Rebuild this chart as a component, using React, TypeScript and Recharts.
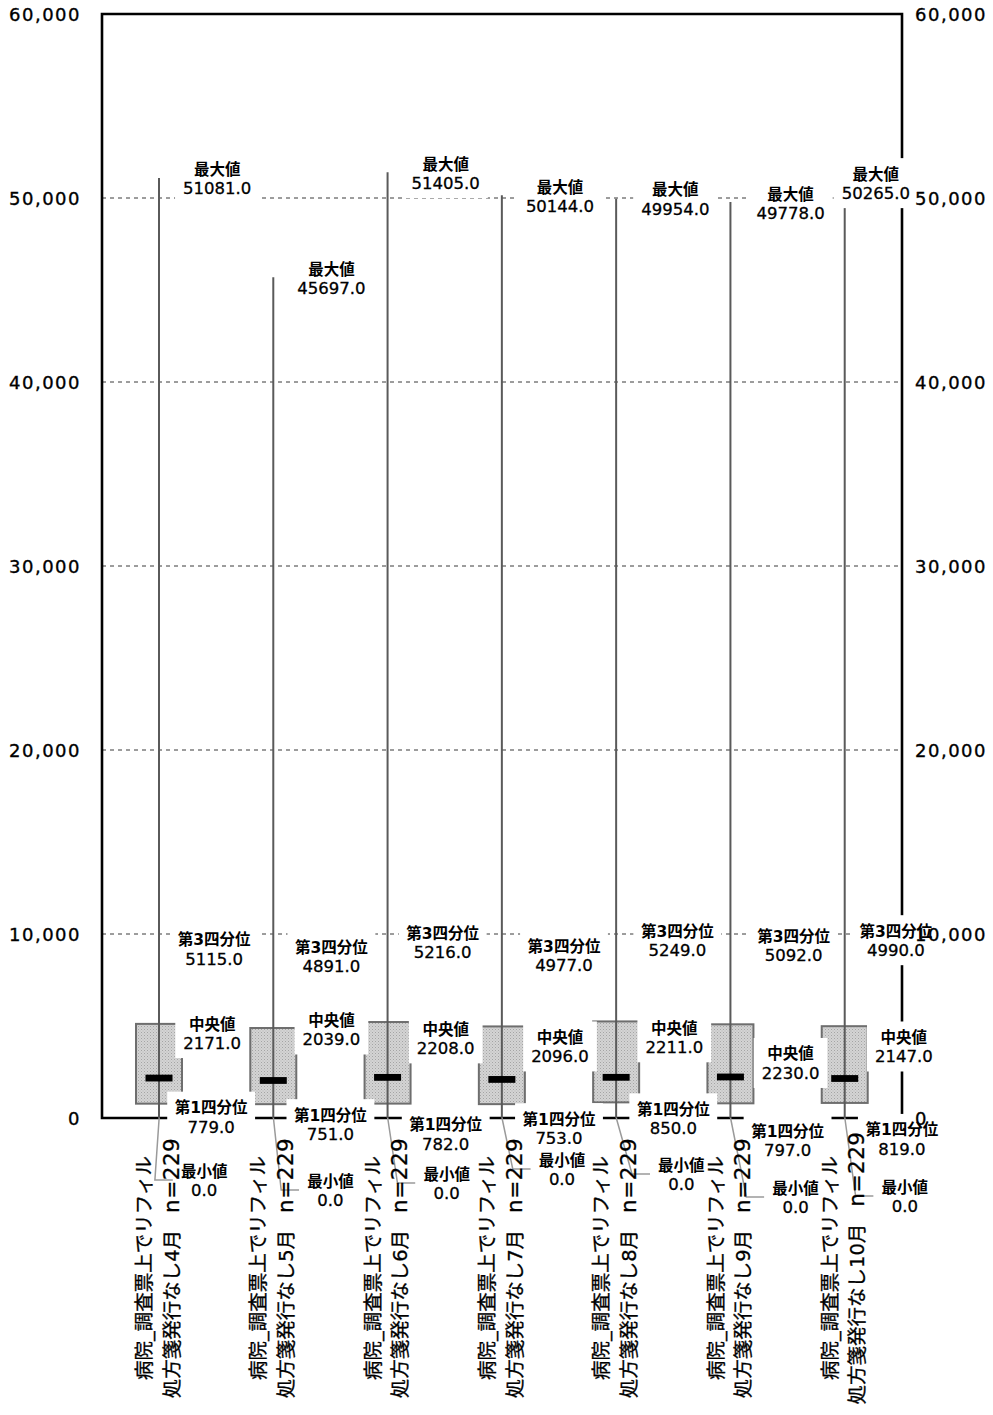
import React from "react";
import {
  ComposedChart,
  Bar,
  Line,
  XAxis,
  YAxis,
  CartesianGrid,
  ReferenceArea,
} from "recharts";

const months = ["4月", "5月", "6月", "7月", "8月", "9月", "10月"];
const groupName = "病院_調査票上でリフィル";
const groupSub = "処方箋発行なし";
const counts = [229, 229, 229, 229, 229, 229, 229];

const maxValues = [51081, 45697, 51405, 50144, 49954, 49778, 50265];
const q3Values = [5115, 4891, 5216, 4977, 5249, 5092, 4990];
const medianValues = [2171, 2039, 2208, 2096, 2211, 2230, 2147];
const q1Values = [779, 751, 782, 753, 850, 797, 819];
const minValues = [0, 0, 0, 0, 0, 0, 0];

const yTicks = [0, 10000, 20000, 30000, 40000, 50000, 60000];

// where each label sits, as an offset (dx, dy) of its centre from its point
const maxLabelPos = [[58, 0], [58, 1], [58, 1], [58, 1], [59, 0], [60, 1], [31, -10]];
const q3LabelPos = [[55, -75], [58, -72], [55, -80], [62, -71], [61, -81], [63, -79], [51, -86]];
const medianLabelPos = [[53, -45], [58, -51], [58, -39], [58, -33], [58, -40], [60, -14], [59, -32]];
const q1LabelPos = [[52, 13], [57, 20], [58, 30], [57, 24], [57, 16], [57, 37], [57, 36]];
const minLabelPos = [[45, 62], [57, 72], [59, 65], [60, 51], [65, 56], [65, 79], [60, 78]];

const rows = months.map((month, i) => ({
  month,
  n: counts[i],
  min: minValues[i],
  q1: q1Values[i],
  median: medianValues[i],
  q3: q3Values[i],
  max: maxValues[i],
}));

const FONT = "'DejaVu Sans', 'Noto Sans CJK JP', sans-serif";

function textWidth(s: string, size: number) {
  let w = 0;
  for (const ch of s) {
    const c = ch.charCodeAt(0);
    if (c > 0x2e80) w += size;
    else if (ch === ".") w += size * 0.318;
    else w += size * 0.636;
  }
  return w;
}

function BoxShape(props: any) {
  const { x, y, width, height, payload, index } = props;
  if (height == null || !payload) return <g />;
  const top = Math.min(y, y + height);
  const span = Math.abs(height);
  const k = span / (payload.max - payload.min);
  const yOf = (v: number) => top + span - (v - payload.min) * k;
  const cx = x + width / 2;
  const pid = `stipple-${index}`;

  return (
    <g>
      <defs>
        <pattern id={pid} width={3} height={3} patternUnits="userSpaceOnUse">
          <rect width={3} height={3} fill="#d4d4d4" />
          <rect width={1} height={1} fill="#a4a4a4" />
          <rect x={1.5} y={1.5} width={1} height={1} fill="#b4b4b4" />
        </pattern>
      </defs>
      <rect
        x={x}
        y={yOf(payload.q3)}
        width={width}
        height={yOf(payload.q1) - yOf(payload.q3)}
        fill={`url(#${pid})`}
        stroke="#6e6e6e"
        strokeWidth={2}
      />
      <line
        x1={cx}
        x2={cx}
        y1={yOf(payload.max)}
        y2={yOf(payload.min)}
        stroke="#5a5a5a"
        strokeWidth={2}
      />
      <rect
        x={cx - 13.5}
        y={yOf(payload.median) - 3.4}
        width={27}
        height={6.8}
        fill="#000"
      />
    </g>
  );
}

function makeLabelDot(title: string, positions: number[][], withLeader: boolean) {
  return (props: any) => {
    const { cx, cy, index, value } = props;
    const key = `${title}-${index}`;
    if (cx == null || cy == null || !positions[index]) return <g key={key} />;

    const [dx, dy] = positions[index];
    const lx = cx + dx;
    const ly = cy + dy;
    const valueText = Number(value).toFixed(1);
    const w = Math.max(textWidth(title, 15.5), textWidth(valueText, 16.5)) + 16;
    const left = lx - w / 2;

    return (
      <g key={key}>
        {withLeader && (
          <polyline
            points={`${cx},${cy} ${left - 18},${ly} ${left},${ly}`}
            fill="none"
            stroke="#9a9a9a"
            strokeWidth={1.5}
          />
        )}
        <rect x={left} y={ly - 25} width={w} height={50} fill="#fff" />
        <text
          x={lx}
          y={ly - 3.5}
          textAnchor="middle"
          fontSize={15.5}
          fontWeight={700}
          fontFamily={FONT}
          fill="#000"
        >
          {title}
        </text>
        <text
          x={lx}
          y={ly + 16}
          textAnchor="middle"
          fontSize={16.5}
          fontFamily={FONT}
          fill="#000"
          stroke="#000"
          strokeWidth={0.3}
        >
          {valueText}
        </text>
      </g>
    );
  };
}

function AxisTick(props: any) {
  const { x, y, payload, anchor } = props;
  return (
    <text
      x={x}
      y={y + 6.5}
      textAnchor={anchor}
      fontSize={18}
      letterSpacing={1.5}
      fontFamily="'DejaVu Sans'"
      fill="#000"
      stroke="#000"
      strokeWidth={0.35}
    >
      {Number(payload.value).toLocaleString("en-US")}
    </text>
  );
}

function CategoryTick(props: any) {
  const { x, y, payload } = props;
  const i = months.indexOf(payload.value);
  return (
    <g transform={`translate(${x},${y + 150}) rotate(-90)`}>
      <text
        textAnchor="middle"
        fontSize={19.5}
        fontFamily={FONT}
        fill="#000"
        stroke="#000"
        strokeWidth={0.3}
      >
        <tspan x={0} y={-8}>
          {groupName}
        </tspan>
        <tspan x={0} y={19.5}>
          {groupSub}
          {payload.value}
          <tspan dx={17} fontSize={21.5} letterSpacing={0.5}>
            n={counts[i]}
          </tspan>
        </tspan>
      </text>
    </g>
  );
}

export default function App() {
  return (
    <div style={{ position: "absolute", left: 0, top: 0, background: "#fff" }}>
      <ComposedChart
        width={993}
        height={1415}
        data={rows}
        margin={{ top: 14, right: 0, bottom: 0, left: 0 }}
      >
        <CartesianGrid vertical={false} stroke="#3a3a3a" strokeDasharray="4 4" />
        <ReferenceArea y1={0} y2={60000} fill="none" stroke="#000" strokeWidth={2.6} />

        <Bar
          dataKey={(d: any) => [d.min, d.max]}
          barSize={46}
          shape={BoxShape}
          isAnimationActive={false}
        />

        <Line
          dataKey="max"
          stroke="none"
          dot={makeLabelDot("最大値", maxLabelPos, false)}
          activeDot={false}
          isAnimationActive={false}
        />
        <Line
          dataKey="q3"
          stroke="none"
          dot={makeLabelDot("第3四分位", q3LabelPos, false)}
          activeDot={false}
          isAnimationActive={false}
        />
        <Line
          dataKey="median"
          stroke="none"
          dot={makeLabelDot("中央値", medianLabelPos, false)}
          activeDot={false}
          isAnimationActive={false}
        />
        <Line
          dataKey="q1"
          stroke="none"
          dot={makeLabelDot("第1四分位", q1LabelPos, false)}
          activeDot={false}
          isAnimationActive={false}
        />
        <Line
          dataKey="min"
          stroke="none"
          dot={makeLabelDot("最小値", minLabelPos, true)}
          activeDot={false}
          isAnimationActive={false}
        />
        <Line
          yAxisId="right"
          dataKey="max"
          stroke="none"
          dot={false}
          activeDot={false}
          isAnimationActive={false}
        />

        <XAxis
          dataKey="month"
          height={297}
          axisLine={false}
          tickLine={false}
          tickSize={0}
          tickMargin={0}
          interval={0}
          tick={<CategoryTick />}
        />
        <YAxis
          domain={[0, 60000]}
          ticks={yTicks}
          width={102}
          axisLine={false}
          tickLine={false}
          tickSize={0}
          tickMargin={21}
          tick={<AxisTick anchor="end" />}
        />
        <YAxis
          yAxisId="right"
          orientation="right"
          domain={[0, 60000]}
          ticks={yTicks}
          width={91}
          axisLine={false}
          tickLine={false}
          tickSize={0}
          tickMargin={13}
          tick={<AxisTick anchor="start" />}
        />
      </ComposedChart>
    </div>
  );
}
